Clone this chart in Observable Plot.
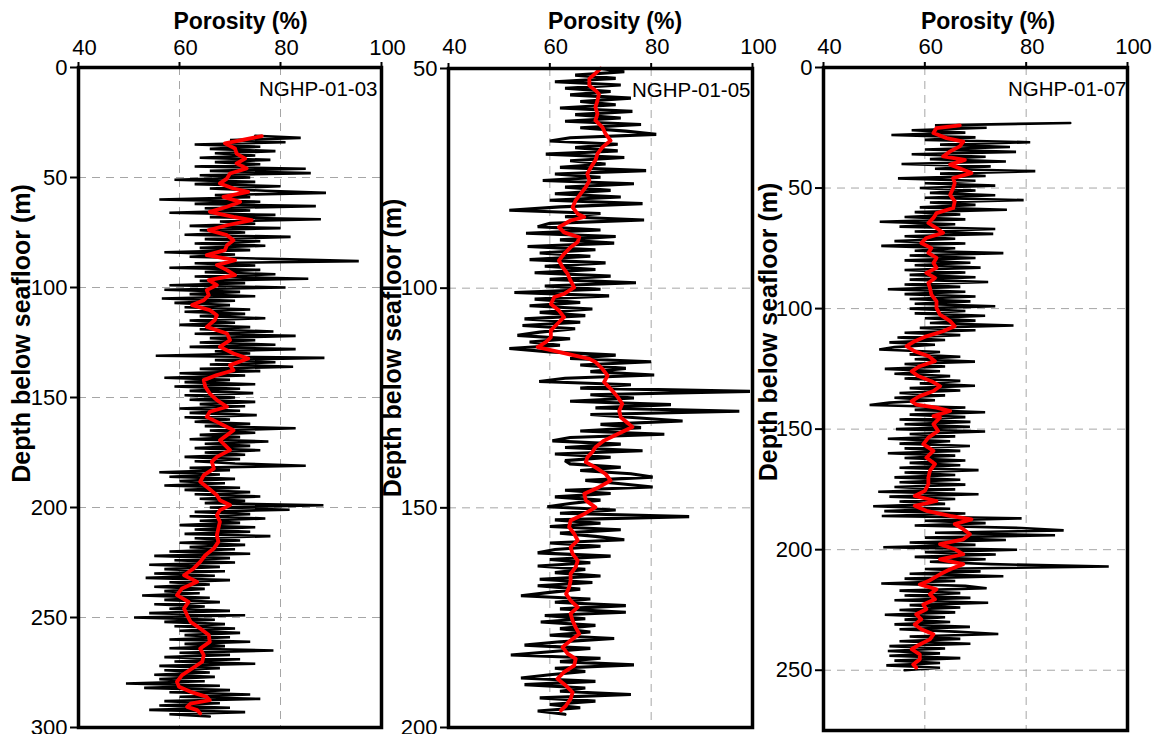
<!DOCTYPE html>
<html>
<head>
<meta charset="utf-8">
<script src="https://cdn.jsdelivr.net/npm/d3@7"></script>
<script src="https://cdn.jsdelivr.net/npm/@observablehq/plot@0.6"></script>
<style>
  body { margin: 0; background: #fff; }
  #wrap { position: relative; width: 1153px; height: 734px; overflow: hidden; background: #fff; }
  #wrap svg { position: absolute; top: 0; overflow: visible; }
</style>
</head>
<body>
<div id="wrap"></div>
<script>
// ---------- shared axis settings ----------
const xLabel = "Porosity (%)";
const yLabel = "Depth below seafloor (m)";
const xTicks = [40, 60, 80, 100];
const xGrid = [60, 80];

// ---------- NGHP-01-03 ----------
const name03 = "NGHP-01-03";
const yTicks03 = [0, 50, 100, 150, 200, 250, 300];
const yGrid03 = [50, 100, 150, 200, 250];
const start03 = 31;      // first sample depth (m)
const interval03 = 1;    // log sampling interval (m)
const poro03 = [
75,84,70,81,63,76,66,79,67,75,
64,78,67,76,63,85,66,86,64,74,
59,75,63,80,66,77,89,67,74,56,
76,63,87,65,74,58,79,66,88,68,
75,62,80,64,73,61,82,65,76,63,
77,64,74,57,71,62,78,95.5,63,75,
58,76,65,79,63,85.5,64,73,58,81,
57,72,62,75,56.5,71,59,70,61,74,
61,73,64,77,62,71,60,74,64,78.6,
63,83,66,75,64,79,62,83,67,74,
55.3,88.7,67,79,66,82.5,64,76,60,73,
57,70,61,75,59,72,62,74.6,61,71,
62,75,64,73,60,72,62,75.3,61,70,
63,74,65,83,66,75,64,72,62,77.6,
65,74,63,76,65,73,61,72,63,71,
85,62,70,56,68,58,71,60,69,57,
72,61,74,63,76,64,73,65,88.5,66,
81.8,63,74,62,77,64,72,60,75,63,
74,61,78,63,72,60,73,62,71,58,
74,55,70,59,71,54,68,57,69,55,
67,53.3,70,58,66,55,65,57,64,52.6,
66,57,68,55,65,58,70,54,73,51,
67,57,69,59,71,60,72,61,70,58,
74,61,69,58,78.6,60,70,57,72,59,
75,56,68,57,66,55,67,56,65,49.4,
68,53,70,58,74,60,76,57,68,56,
70,54,73,58,66
];
const smooth03 = [
[31.2,76.3],[34.5,69],[36.8,71],[39.1,71.3],[41.4,73],[43.6,71.3],[45.9,73.3],[48.2,70],[50.5,69.4],[52.7,68],
[55,70.7],[56.5,73.6],[58.8,68.7],[61.1,72],[63.3,69.4],[65.6,66],[67.9,70.7],[69.4,74.3],[71.7,69.4],[73.9,65.8],
[76.2,69.4],[78.5,70.7],[80.8,69.4],[83,69],[85.3,65.4],[87.6,71],[89.8,67.4],[92.1,69.4],[94.4,71],[96.7,65.8],
[98.9,67.4],[101.2,65.4],[103.5,65.8],[105.8,64.8],[108,62.5],[110.3,66],[112.6,67.4],[114.8,67],[117.9,65.4],[120.9,69.4],
[123.9,70],[127,68],[130,70.7],[132.3,73.6],[135.3,70],[137.6,70.7],[139.8,67.4],[142.1,64.8],[145.1,65.1],[148.2,66],
[151.2,67.4],[154.2,69.4],[156.5,66],[158.8,65.4],[161.1,67.4],[164.9,70.7],[167.1,69.4],[169.4,68],[171.7,69],[173.9,70],
[177,67.4],[179.2,66.4],[182.3,66.8],[185.3,64.8],[188.3,64.1],[191.4,65.8],[194.4,67.4],[196.7,68],[198.9,70],[201.2,68],
[203.5,67.4],[206.5,68],[209.5,67.7],[212.6,67.4],[215.6,67.7],[218.6,66.8],[221.7,65.1],[224.7,64.1],[227.7,62.8],[230.8,60.9],
[233.8,63.5],[236.8,60.5],[239.8,59.5],[242.9,61.8],[245.9,60.9],[248.9,61.5],[252,62.2],[255,64.1],[258,65.8],[261.1,66],
[264.1,64.1],[267.1,64.8],[270.1,64.5],[273.2,62.5],[276.2,60.5],[279.2,59.5],[281.5,59.9],[283.8,62.2],[286.1,65.4],[287.6,66],
[289.1,62.2],[290.6,61.5],[292.1,63.5],[293.6,64.1]
];

// ---------- NGHP-01-05 ----------
const name05 = "NGHP-01-05";
const yTicks05 = [50, 100, 150, 200];
const yGrid05 = [100, 150];
const start05 = 50;
const interval05 = 0.75;
const poro05 = [
70,74.7,65,73,61,74,63,72,
64,76,66,73,62,76.3,65,74,
63,78,66,75,81,64,60,73.4,
65,73.4,59.2,74.7,64,71,62,79,
61,70,58.6,76.6,63,72,61,74,
60,78.3,62,52,70,63,78.6,60,
57.6,70,55.3,73,62,72.7,55.6,69,
58,68,56,71,59,69,57,72,
60,77,59,70,53,71.7,57,66,
56,68.4,58,67,55,66,54.6,65,
58,53.6,64,56,62,52,60,73,
64,80,66,75,68,80.6,63,57.9,
76,66,99.5,68,76.6,64,83.9,69,
97.4,68,77,86.2,70,78,66,82.6,
64,60.5,74,63,78.3,61,72,63,
64,74,66,76,80.3,67,74,80.3,
63,72,61,70,64,59.5,73,62,
87.5,61,70,60,74,62,69,74.7,
60,70,61,57.6,72,60,68,57.6,
67,61,70,58,68.4,57.6,66,60,
54.3,68,61,75,62,75,59,67,
58.2,69,62,68,60,72.7,62,55,
68,60,52.3,70,62,76.6,61,67,
60,54.3,69,55,67,62,76,58,
69,60,66,57.6,63
];
const smooth05 = [
[50,70],[51.1,69],[52.3,67.8],[53.9,67.8],[55,69],[55.8,69.7],[57.3,69.4],[58.8,69],[60.3,69.4],[61.8,69],
[63.4,70.4],[64.9,71],[66.4,72],[67.9,70.4],[69.4,69.4],[70.9,69],[72.5,68.1],[74,67.4],[75.5,67.8],[77,67.1],
[78.5,66.1],[80,65.1],[81.6,64.5],[83.1,65.5],[83.8,66.8],[84.6,64.1],[86.1,61.8],[87.3,62.8],[88.4,65.8],[89.5,65.5],
[90.7,64.1],[92.2,62.8],[93.7,61.8],[95.2,62.5],[96.7,63.5],[98.3,64.1],[99.8,64.8],[101.3,62.8],[102,60.9],[103.6,60.2],
[105.1,61.8],[106.6,62.8],[108.1,61.5],[109.6,60.2],[111.2,60.2],[112.3,59.2],[113.4,57.6],[116.1,67.8],[116.8,69],[118.4,70.4],
[119.9,71.4],[121.4,70.7],[122.9,72],[124.8,73.4],[126.3,74.3],[127.9,73.7],[129.4,74],[131.6,76.3],[133.2,73.4],[134.7,70.7],
[136.2,69],[137.3,68.4],[138.5,67.4],[139.6,67.1],[140.8,69],[142.3,71],[143.8,72],[145.3,69.7],[146.8,66.8],[148.3,67.1],
[149.9,69],[151.4,66.8],[152.9,64.1],[154.4,63.8],[155.9,64.8],[157.4,65.5],[159,64.1],[160.5,64.5],[162,65.5],[163.5,65.1],
[165,64.1],[166.6,64.1],[168.1,63.8],[169.6,63.2],[171.1,64.1],[172.6,65.5],[174.1,64.1],[175.7,64.5],[177.2,65.1],[178.7,65.8],
[180.2,64.1],[181.7,62.5],[183.2,63.5],[184.4,65.1],[185.9,64.8],[187.4,62.8],[188.9,61.5],[190.5,63.2],[192,64.5],[193.5,64.1],
[195,63.2],[196.1,62.2]
];

// ---------- NGHP-01-07 ----------
const name07 = "NGHP-01-07";
const yTicks07 = [0, 50, 100, 150, 200, 250];
const yGrid07 = [50, 100, 150, 200, 250];
const start07 = 23;
const interval07 = 1;
const poro07 = [
88.7,62,72.2,57.4,68,53.4,70,60,80.8,63,
76.8,60,78,57.4,72,61,76,55.4,73,62,
81.8,63,72,54.7,70,60,73.9,59,70,61,
73.9,60,79.5,61,70,59,76.2,58,67,56,
68,51.1,66,55,73.9,58,73.5,56,66,54,
68,51.4,66,58,75.5,57,70,56,69,58,
71,56,68,57,70,57,72.5,56,67,52.7,
68,56,70,57,69,58,73.9,57,68,58,
71.9,60,70,61,77.5,59,70,56,67,54.6,
64,53,62,54,51,63,57,67,58,69.9,
56,64,52.1,63,54,65,56,67,59,69.9,
57,67,55,64,54,62,53,49.1,68,58,
71.9,57,68,55,69,56,68.9,54.3,71.9,57,
66,52.7,65,55,68.9,56,67,52.7,66,56,
68,57,67,55,70.6,56,66,54,67,55,
68,54,66,50.8,70.6,53,66,55,64,49.8,
65,52,68,51.5,79.1,60,72,58,79.1,87.4,
62,85.7,60,76,57,70,51.8,78.2,60,74,
58,72,61,73,96.3,60,71,57,75.5,56,
66,51.4,68,72.2,55,67,56,69,54,72.5,
57,67,55,66,52.1,64,56,65,54,68.9,
55,66,74.5,57,67,55,69,53,64,52.7,
63,53,67,54,63,52.4,63,56
];
const smooth07 = [
[24,66.9],[25.1,62.3],[27.2,61.7],[29.3,64.3],[30.7,67.6],[32.7,66.9],[34.8,65],[36.9,63.6],[38.3,67.9],[40.3,65],
[42.4,67.6],[43.8,69.2],[45.9,65.6],[47.9,65.9],[50,65.6],[52.8,65],[55.5,65.9],[58.3,65.6],[60.4,62.3],[62.4,61.7],
[64.5,60.7],[66.6,62.3],[68.6,63.6],[70.7,60.3],[72.8,59.3],[74.9,61.3],[76.9,60.7],[79,62.3],[81.1,61.7],[83.1,62.3],
[85.2,60.3],[87.3,62],[89.4,60.7],[91.4,61],[94.2,61.3],[97,62.3],[99.7,62.3],[102.5,63],[105.2,65],[107.3,65.9],
[109.4,63.6],[111.5,60.3],[113.5,58],[115.6,56.4],[117.7,58],[119.7,60.7],[121.8,62],[123.9,59],[126,57.4],[128,58.7],
[130.1,61.3],[132.2,63],[134.2,61.7],[136.3,59],[138.4,57.4],[139.8,58.3],[141.1,62.3],[142.5,65],[144.6,61.7],[145.2,63],
[147.9,61.7],[150.7,62.6],[153.5,60.7],[156.2,59.7],[159,61.7],[161.8,60.3],[164.5,62],[167.3,61],[170.1,60.7],[172.8,60.7],
[175.6,60],[177.7,58],[179.8,62.3],[181.8,58],[183.9,60.3],[186,65],[187.4,69.2],[189.4,65.9],[191.5,67.6],[193.6,68.9],
[195.7,67.6],[197.7,63],[199.8,65.9],[201.9,67.6],[204,63],[206,67.6],[208.1,65],[210.2,63],[213,60.7],[214.4,59],
[216.4,62.3],[218.5,61],[220.6,62],[222.7,59.7],[224.7,60.3],[226.8,58.3],[228.9,59.3],[231,58],[233,59.3],[235.1,61.7],
[237.2,61],[239.3,59],[241.3,57.4],[243.4,59],[245.5,59],[247.6,57.7],[248.9,58.3]
];

// ---------- drawing ----------
const FONT = "'Liberation Sans', Arial, Helvetica, sans-serif";
const gridStyle = {stroke: "#a6a6a6", strokeOpacity: 1, strokeWidth: 1, strokeDasharray: "8,6"};

function panel(c) {
  const log = c.poro.map((p, i) => ({depth: c.start + i * c.interval, poro: p}));
  const smooth = c.smooth.map(([d, p]) => ({depth: d, poro: p}));
  const svg = Plot.plot({
    width: c.width, height: 734,
    marginLeft: c.ml, marginRight: c.mr, marginTop: c.mt, marginBottom: c.mb,
    style: {fontFamily: FONT, background: "transparent", color: "black", overflow: "visible"},
    x: {domain: [40, 100]},
    y: {domain: c.yDomain, reverse: true},
    marks: [
      Plot.gridX(xGrid, gridStyle),
      Plot.gridY(c.yGrid, gridStyle),
      Plot.line(log, {x: "poro", y: "depth", stroke: "black", strokeWidth: c.logWidth, strokeLinejoin: "miter", strokeMiterlimit: 2}),
      Plot.line(smooth, {x: "poro", y: "depth", stroke: "#ff0000", strokeWidth: 3.8, strokeLinejoin: "round", strokeLinecap: "round"}),
      Plot.frame({stroke: "black", strokeWidth: 3.5}),
      Plot.axisX(xTicks, {anchor: "top", tickSize: 6, strokeWidth: 2, fill: "none", label: null}),
      Plot.text(xTicks, {x: d => d, frameAnchor: "top", dx: 6, dy: c.xTickDy, lineAnchor: "bottom", textAnchor: "middle", fontSize: 22, fill: "black", text: d => String(d)}),
      Plot.axisY(c.yTicks, {anchor: "left", tickSize: 8, tickPadding: 3, strokeWidth: 2, fontSize: 22, label: null}),
      Plot.text([xLabel], {frameAnchor: "top", dx: c.xlDx, dy: c.xlDy, lineAnchor: "bottom", textAnchor: "middle", fontSize: 23, fontWeight: "bold", fill: "black", text: d => d}),
      Plot.text([yLabel], {frameAnchor: "left", rotate: -90, dx: c.ylDx, dy: c.ylDy, lineAnchor: "middle", textAnchor: "middle", fontSize: 25, fontWeight: "bold", fill: "black", text: d => d}),
      Plot.text([c.name], {frameAnchor: "top-right", dx: c.nameDx, dy: 28, lineAnchor: "bottom", textAnchor: "end", fontSize: 20.5, fill: "black", text: d => d})
    ]
  });
  svg.style.left = c.left + "px";
  document.getElementById("wrap").appendChild(svg);
}

panel({name: name03, poro: poro03, start: start03, interval: interval03, smooth: smooth03,
  yDomain: [0, 300], yTicks: yTicks03, yGrid: yGrid03, logWidth: 2.6,
  left: 0, width: 395, ml: 78, mr: 14, mt: 67, mb: 7,
  xTickDy: -12.5, xlDx: 10.5, xlDy: -39, ylDx: -57, ylDy: -64, nameDx: -4});

panel({name: name05, poro: poro05, start: start05, interval: interval05, smooth: smooth05,
  yDomain: [50, 200], yTicks: yTicks05, yGrid: yGrid05, logWidth: 3.1,
  left: 385, width: 385, ml: 63, mr: 18, mt: 68, mb: 7,
  xTickDy: -14.5, xlDx: 14.5, xlDy: -40, ylDx: -56, ylDy: -50, nameDx: -2});

panel({name: name07, poro: poro07, start: start07, interval: interval07, smooth: smooth07,
  yDomain: [0, 275], yTicks: yTicks07, yGrid: yGrid07, logWidth: 2.6,
  left: 760, width: 393, ml: 63, mr: 26, mt: 67, mb: 4,
  xTickDy: -13.5, xlDx: 12.5, xlDy: -39, ylDx: -55, ylDy: -67, nameDx: -1});
</script>
</body>
</html>
